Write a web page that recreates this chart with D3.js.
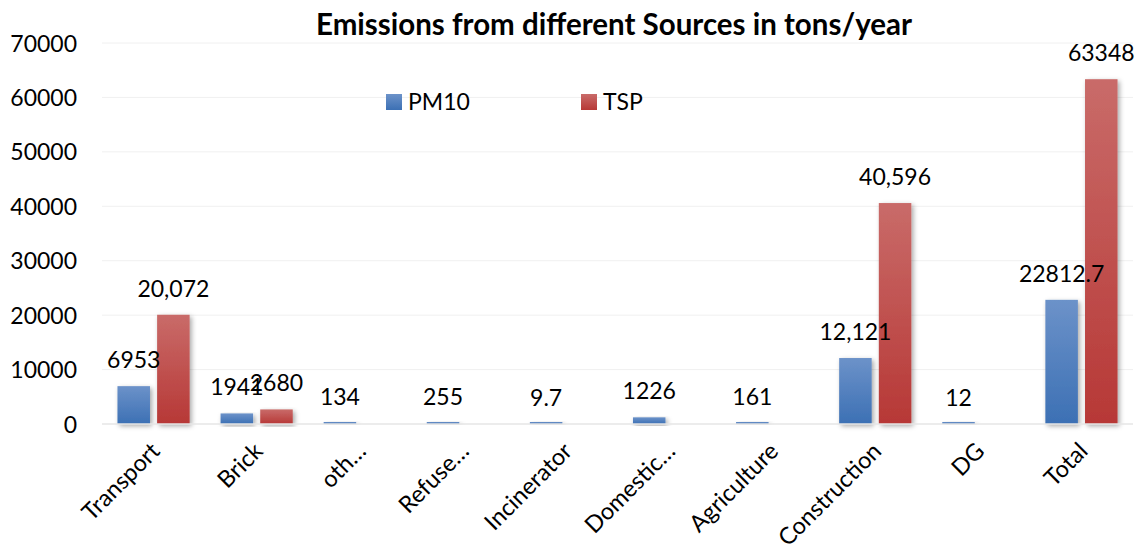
<!DOCTYPE html>
<html><head><meta charset="utf-8">
<script src="https://cdn.jsdelivr.net/npm/d3@7"></script>
<style>body{margin:0;background:#fff}svg{display:block}text{font-family:Lato,"Open Sans",sans-serif;fill:#000}</style>
</head><body><svg id="c" width="1145" height="554"></svg>
<script>
const categories = ["Transport","Brick","oth\u2026","Refuse\u2026","Incinerator","Domestic\u2026","Agriculture","Construction","DG","Total"];
const seriesNames = ["PM10","TSP"];
const pm10 = [6953,1941,134,255,9.7,1226,161,12121,12,22812.7];
const tsp = [20072,2680,null,null,null,null,null,40596,null,63348];
const pm10Labels = ["6953","1941","134","255","9.7","1226","161","12,121","12","22812.7"];
const tspLabels = ["20,072","2680","","","","","","40,596","","63348"];
const yTicks = [0,10000,20000,30000,40000,50000,60000,70000];

(function(){
const svg = d3.select("#c");
const pLeft = 102, pRight = 1133, pTop = 43, pBottom = 424;

const defs = svg.append("defs");
function grad(id, c1, c2){
  const g = defs.append("linearGradient").attr("id",id).attr("x1",0).attr("y1",0).attr("x2",0).attr("y2",1);
  g.append("stop").attr("offset","0%").attr("stop-color",c1);
  g.append("stop").attr("offset","100%").attr("stop-color",c2);
}
grad("gBlue","#6c92c9","#3c70b4");
grad("gRed","#c96b69","#b73836");
const f = defs.append("filter").attr("id","sh").attr("x","-30%").attr("y","-10%").attr("width","160%").attr("height","130%");
f.append("feDropShadow").attr("dx",2).attr("dy",2).attr("stdDeviation",2.5).attr("flood-color","#000").attr("flood-opacity",0.35);

const x0 = d3.scaleBand().domain(categories).range([pLeft,pRight]).paddingInner(0.3).paddingOuter(0.15);
const x1 = d3.scaleBand().domain(seriesNames).range([0,x0.bandwidth()]).paddingInner(0.18);
const y = d3.scaleLinear().domain([0,70000]).range([pBottom,pTop]);

svg.append("g").selectAll("line").data(yTicks.slice(1)).join("line")
  .attr("x1",pLeft).attr("x2",pRight).attr("y1",d=>y(d)).attr("y2",d=>y(d))
  .attr("stroke","#f0f0f0").attr("stroke-width",1);

const yAxis = d3.axisLeft(y).tickValues(yTicks).tickFormat(d3.format("d")).tickSize(0).tickPadding(0);
const ya = svg.append("g").attr("transform",`translate(77,0)`).call(yAxis);
ya.select(".domain").remove();
ya.selectAll("text").style("font-size","23px").attr("font-family","Lato").attr("dy","0.35em");

svg.append("text").attr("x",614).attr("y",35).attr("text-anchor","middle")
  .style("font-size","29.5px").style("font-weight","bold").text("Emissions from different Sources in tons/year");

const colors = {PM10:"url(#gBlue)", TSP:"url(#gRed)"};
const data = categories.map((c,i)=>({c, vals:[{s:"PM10",v:pm10[i],l:pm10Labels[i]},{s:"TSP",v:tsp[i],l:tspLabels[i]}]}));
const groups = svg.append("g").selectAll("g").data(data).join("g").attr("transform",d=>`translate(${x0(d.c)},0)`);
groups.selectAll("rect").data(d=>d.vals.filter(v=>v.v!=null)).join("rect")
  .attr("x",d=>x1(d.s)).attr("width",x1.bandwidth())
  .attr("y",d=>Math.min(y(d.v), pBottom-2)).attr("height",d=>Math.max(pBottom-y(d.v),2))
  .attr("fill",d=>colors[d.s]).attr("filter","url(#sh)");
svg.append("line").attr("x1",pLeft).attr("x2",pRight).attr("y1",pBottom).attr("y2",pBottom).attr("stroke","#e6e6e6").attr("stroke-width",1.5);
groups.selectAll("text").data(d=>d.vals.filter(v=>v.v!=null)).join("text")
  .attr("x",d=>x1(d.s)+x1.bandwidth()/2).attr("y",d=>y(d.v)-18)
  .attr("text-anchor","middle").style("font-size","23px").text(d=>d.l);

const xAxis = d3.axisBottom(x0).tickSize(0).tickPadding(0);
const xa = svg.append("g").attr("transform",`translate(0,${pBottom})`).call(xAxis);
xa.select(".domain").remove();
xa.selectAll("text").attr("font-family","Lato").style("font-size","23.5px")
  .attr("text-anchor","end").attr("transform","translate(-4,17) rotate(-45)").attr("dy","0.7em").attr("y",0).attr("x",0);

const lg = svg.append("g");
const legendX = {PM10:386, TSP:581};
seriesNames.forEach(s=>{
  lg.append("rect").attr("x",legendX[s]).attr("y",94).attr("width",16).attr("height",16).attr("fill",colors[s]);
  lg.append("text").attr("x",legendX[s]+22).attr("y",110).style("font-size","23px").text(s);
});
})();
</script></body></html>
